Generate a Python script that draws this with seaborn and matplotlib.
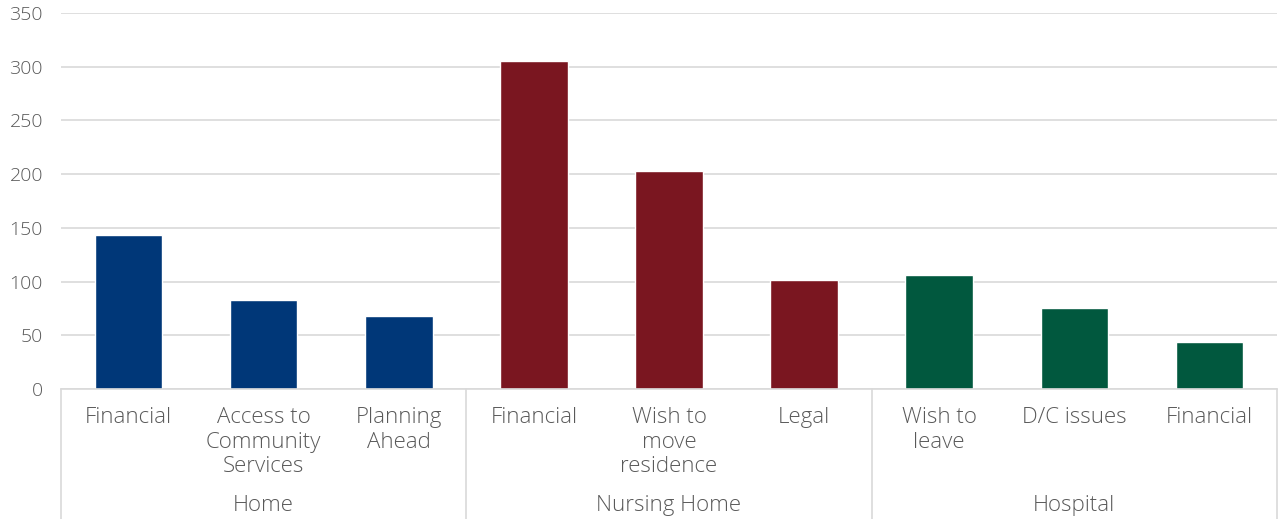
import matplotlib
matplotlib.use("Agg")
import matplotlib.pyplot as plt
import matplotlib.transforms as mtransforms
import seaborn as sns
import pandas as pd

# Concerns raised, grouped by care setting
groups = ["Home", "Nursing Home", "Hospital"]
home_labels = ["Financial", "Access to\nCommunity\nServices", "Planning\nAhead"]
nursing_labels = ["Financial", "Wish to\nmove\nresidence", "Legal"]
hospital_labels = ["Wish to\nleave", "D/C issues", "Financial"]
home_values = [143, 83, 68]
nursing_values = [305, 203, 101]
hospital_values = [106, 75, 44]
y_ticks = [0, 50, 100, 150, 200, 250, 300, 350]

group_colors = {"Home": "#003778", "Nursing Home": "#7a1620", "Hospital": "#01583e"}

labels = home_labels + nursing_labels + hospital_labels
values = home_values + nursing_values + hospital_values
group_col = (["Home"] * len(home_labels) + ["Nursing Home"] * len(nursing_labels)
             + ["Hospital"] * len(hospital_labels))
df = pd.DataFrame({
    "key": [f"{g}|{l}" for g, l in zip(group_col, labels)],
    "label": labels,
    "value": values,
    "group": group_col,
})

sns.set_theme(style="white")
plt.rcParams["font.family"] = ["Open Sans", "DejaVu Sans"]
text_color = "#595959"
grid_color = "#d9d9d9"
font_weight = "light"

fig = plt.figure(figsize=(12.79, 5.19), dpi=100)
ax = fig.add_axes([61 / 1279, 130 / 519, 1216 / 1279, 376 / 519])

sns.barplot(data=df, x="key", y="value", hue="group", palette=group_colors,
            dodge=False, width=0.5, legend=False, ax=ax, saturation=1)

ax.set_ylim(0, 350)
ax.set_xlim(-0.5, len(df) - 0.5)
ax.set_yticks(y_ticks)
ax.set_yticklabels([str(t) for t in y_ticks], fontsize=14, color=text_color,
                   fontweight=font_weight)
ax.set_xticks(range(len(df)))
ax.set_xticklabels(df["label"], fontsize=16, color=text_color,
                   fontweight=font_weight, linespacing=1.22)
ax.tick_params(axis="x", length=0, pad=13)
ax.tick_params(axis="y", length=0, pad=13)
ax.set_xlabel("")
ax.set_ylabel("")

ax.yaxis.grid(True, color=grid_color, linewidth=1.2)
ax.set_axisbelow(True)
for side in ["top", "right", "left"]:
    ax.spines[side].set_visible(False)
ax.spines["bottom"].set_color(grid_color)
ax.spines["bottom"].set_linewidth(1.2)

# Group separators and group names beneath the category labels
trans = mtransforms.blended_transform_factory(ax.transData, ax.transAxes)
sizes = [len(home_labels), len(nursing_labels), len(hospital_labels)]
bounds = [-0.5]
for s in sizes:
    bounds.append(bounds[-1] + s)
for b in bounds:
    ax.plot([b, b], [0, -0.36], transform=trans, color=grid_color,
            linewidth=1.2, clip_on=False)
for g, lo, hi in zip(groups, bounds[:-1], bounds[1:]):
    ax.text((lo + hi) / 2, -0.31, g, transform=trans, ha="center", va="center",
            fontsize=16, color=text_color, fontweight=font_weight)

fig.savefig("out.png", dpi=100)
